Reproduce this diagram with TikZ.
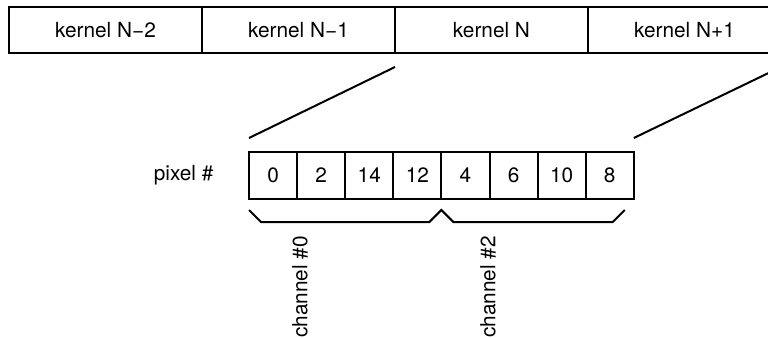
\documentclass[tikz,border=0pt]{standalone}
\usepackage{fontspec}
\setmainfont{TeX Gyre Heros}
\usepackage{tikz}
\usetikzlibrary{positioning,calc}
\tikzstyle{kernelbox}=[draw,line width=1pt,outer sep=0pt,inner sep=0pt,minimum width=96.5pt,minimum height=23pt]
\tikzstyle{cell}=[draw,line width=1pt,outer sep=0pt,inner sep=0pt,minimum width=24.05pt,minimum height=23.5pt]
\tikzstyle{label}=[inner sep=0pt]

\begin{document}
\begin{tikzpicture}[x=0.5pt,y=0.5pt,font=\fontsize{10.4pt}{12pt}\selectfont,line width=1pt]
\useasboundingbox (0,0) rectangle (768,-338);
% kernels
\node [kernelbox] (k2) at (105.5,-30) {kernel N−2};
\node [kernelbox,right=0pt of k2] (k1) {kernel N−1};
\node [kernelbox,right=0pt of k1] (k0) {kernel N};
\node [kernelbox,right=0pt of k0] (kp) {kernel N+1};
% pixels
\foreach \v [count=\i from 0] in {0,2,14,12,4,6,10,8}
  \node [cell] (c\i) at ({273.05+48.1*\i},-175.5) {\v};
\node [left=14pt of c0] (pix) {pixel \#};
\draw ($(c0.north west)+(0,14)$) -- ($(k0.south west)+(0,-14)$);
\draw ($(c7.north east)+(0,14)$) -- ($(kp.south east)+(0,-14)$);
% channels
\draw ($(c0.south west)+(0,-11)$) -- ++(12,-12) -- ($(c4.south west)+(-12,-23)$)
  -- ($(c4.south west)+(0,-11)$) -- ($(c4.south west)+(12,-23)$)
  -- ($(c7.south east)+(-21,-23)$) -- ($(c7.south east)+(-9,-11)$);
\node [label,rotate=90,anchor=east] (ch0) at (300,-235) {channel \#0};
\node [label,rotate=90,anchor=east] (ch2) at (488,-235) {channel \#2};
\end{tikzpicture}
\end{document}
